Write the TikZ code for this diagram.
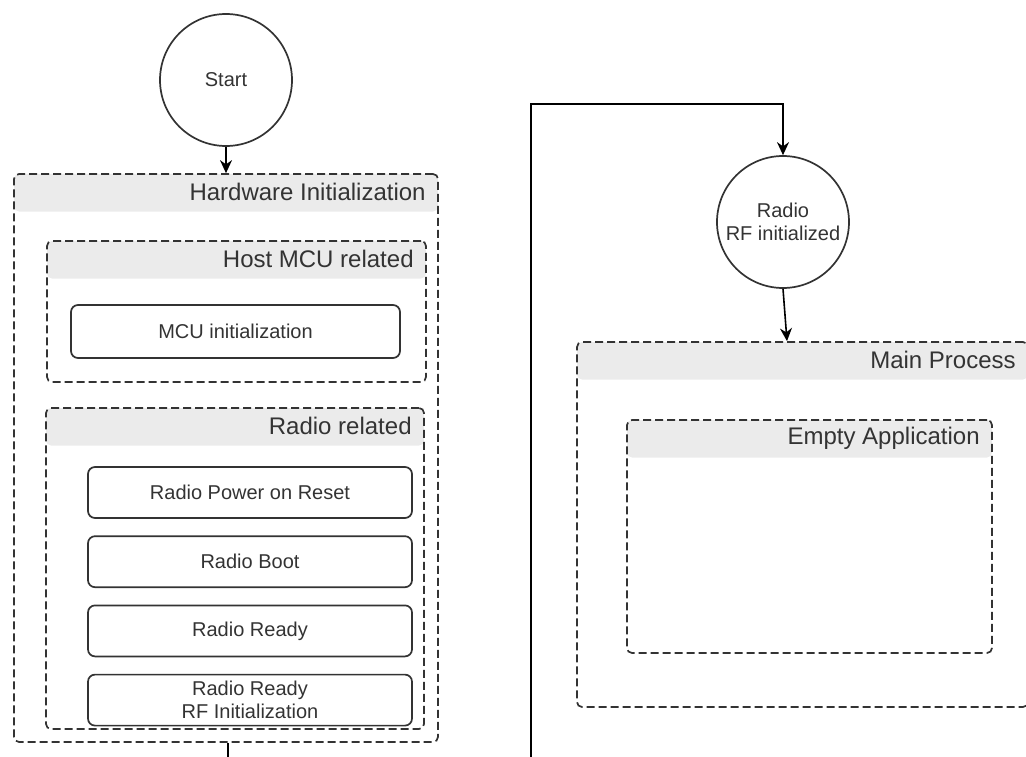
\documentclass[tikz,border=0pt]{standalone}
\usepackage{fontspec}
\setmainfont{Liberation Sans}
\usetikzlibrary{positioning,arrows.meta}

\definecolor{ink}{HTML}{333333}
\definecolor{hdrgray}{HTML}{EBEBEB}

\begin{document}
\begin{tikzpicture}[
    x=1pt, y=-1pt,
    every node/.style={text=ink},
    frame/.style={draw=ink, line width=1.7pt, dash pattern=on 8pt off 4pt, rounded corners=5pt, inner sep=0pt,
        path picture={\fill[hdrgray] (path picture bounding box.north west) rectangle ([yshift=-37.5pt]path picture bounding box.north east);}},
    hdr/.style={anchor=north east, inner sep=0pt, minimum height=37.5pt, font=\fontsize{24}{28}\selectfont},
    stepbox/.style={draw=ink, line width=1.7pt, rounded corners=7pt, minimum width=324pt, minimum height=51pt, inner sep=0pt, align=center, font=\fontsize{20}{23}\selectfont},
    state/.style={circle, draw=ink, line width=1.7pt, minimum size=132pt, inner sep=0pt, align=center, font=\fontsize{20}{23}\selectfont},
    flow/.style={-{Stealth[length=13pt,width=12pt]}, draw=black, line width=1.6pt}
]
    \useasboundingbox (0,0) rectangle (1026,757);
    \clip (0,0) rectangle (1026,757);

    % Start
    \node[state] (start) at (226,80) {Start};

    % Hardware initialization
    \node[frame, minimum width=424pt, minimum height=568pt] (hw) at (226,458) {};
    \node[hdr] (hwname) at ([xshift=-13pt]hw.north east) {Hardware Initialization};

    % Host MCU related
    \node[frame, minimum width=379pt, minimum height=141pt] (host) at (236.5,311.5) {};
    \node[hdr] (hostname) at ([xshift=-13pt]host.north east) {Host MCU related};
    \node[stepbox, minimum width=329pt, minimum height=53pt] (mcu) at (235.5,331.5) {MCU initialization};

    % Radio related
    \node[frame, minimum width=378pt, minimum height=321pt] (radio) at (235,568.5) {};
    \node[hdr] (radioname) at ([xshift=-13pt]radio.north east) {Radio related};
    \node[stepbox] (por) at (250,492.5) {Radio Power on Reset};
    \node[stepbox, below=16.5pt of por] (boot) {Radio Boot};
    \node[stepbox, below=16.5pt of boot] (ready) {Radio Ready};
    \node[stepbox, below=16.5pt of ready] (rfinit) {Radio Ready\\RF Initialization};

    % Radio RF initialized
    \node[state] (rfok) at (783,222) {Radio\\RF initialized};

    % Main process
    \node[frame, minimum width=451pt, minimum height=365pt] (main) at (802.5,524.5) {};
    \node[hdr] (mainname) at ([xshift=-13pt]main.north east) {Main Process};
    \node[frame, minimum width=365pt, minimum height=233pt] (app) at (809.5,536.5) {};
    \node[hdr] (appname) at ([xshift=-13pt]app.north east) {Empty Application};

    % Connectors
    \coordinate (hwout) at (228,770);
    \coordinate (loopin) at (531,770);
    \coordinate (looptop) at (531,104);

    \draw[flow] (start) -- (hw);
    \draw[flow, -] (hw.south -| hwout) -- (hwout);
    \draw[flow] (loopin) -- (looptop) -| (rfok);
    \draw[flow] (rfok.south) -- ([xshift=-15.5pt]main.north);
\end{tikzpicture}
\end{document}
